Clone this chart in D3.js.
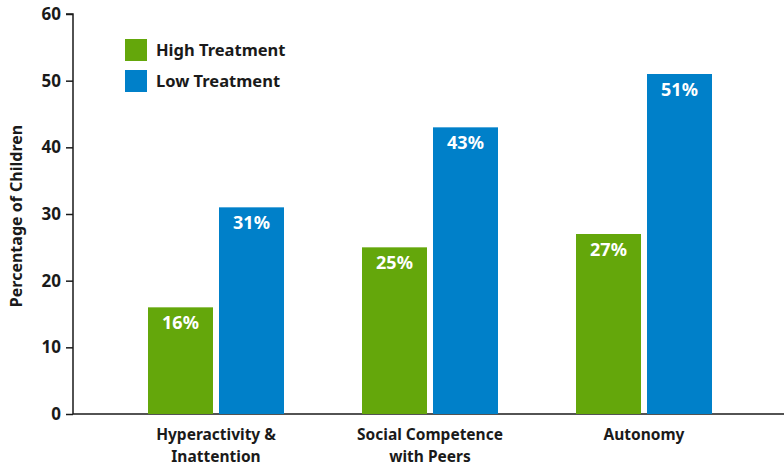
<!DOCTYPE html>
<html>
<head>
<meta charset="utf-8">
<script src="https://cdn.jsdelivr.net/npm/d3@7/dist/d3.min.js"></script>
<style>
  html, body { margin: 0; padding: 0; background: #fff; }
  svg { display: block; font-family: "Noto Sans", "Open Sans", sans-serif; }
</style>
</head>
<body>
<svg id="chart" width="784" height="466"></svg>
<script>
// Outcome categories (two-line labels) and treatment-group percentages
const categories = ["Hyperactivity &\nInattention", "Social Competence\nwith Peers", "Autonomy"];
const seriesNames = ["High Treatment", "Low Treatment"];
const highTreatment = [16, 25, 27];
const lowTreatment = [31, 43, 51];
const yTicks = [0, 10, 20, 30, 40, 50, 60];
const colors = ["#64a70b", "#0080c9"];

const svg = d3.select("#chart");
const ink = "#1a1a1a";

const y = d3.scaleLinear().domain([0, 60]).range([414, 14]);
const x = d3.scaleBand().domain(categories).range([109, 751]).padding(0);

// Y axis
const yAxis = svg.append("g")
  .attr("transform", "translate(73,0)")
  .call(d3.axisLeft(y).tickValues(yTicks).tickSize(7).tickPadding(5));
yAxis.select(".domain").attr("stroke", ink).attr("stroke-width", 1.5).attr("d", "M-7,14H0V414");
yAxis.selectAll(".tick line").attr("stroke", ink).attr("stroke-width", 1.5);
yAxis.selectAll(".tick text")
  .attr("fill", ink).attr("font-size", 17).attr("font-weight", 700)
  .attr("font-family", "'Noto Sans', sans-serif");

// X baseline
svg.append("line")
  .attr("x1", 73).attr("x2", 784).attr("y1", y(0)).attr("y2", y(0))
  .attr("stroke", ink).attr("stroke-width", 1.5);

// Bars
const rows = categories.map((c, i) => ({ cat: c, vals: [highTreatment[i], lowTreatment[i]] }));
const groups = svg.append("g").selectAll("g").data(rows).join("g")
  .attr("transform", d => `translate(${x(d.cat) + x.bandwidth() / 2 - 68},0)`);

const barW = 65;
groups.selectAll("rect")
  .data(d => d.vals.map((v, j) => ({ v, j })))
  .join("rect")
  .attr("x", d => d.j * (barW + 6))
  .attr("width", barW)
  .attr("y", d => y(d.v))
  .attr("height", d => y(0) - y(d.v))
  .attr("fill", d => colors[d.j]);

groups.selectAll("text.val")
  .data(d => d.vals.map((v, j) => ({ v, j })))
  .join("text")
  .attr("class", "val")
  .attr("x", d => d.j * (barW + 6) + barW / 2)
  .attr("y", d => y(d.v) + 22)
  .attr("text-anchor", "middle")
  .attr("fill", "#fff")
  .attr("font-size", 18)
  .attr("font-weight", 700)
  .text(d => d.v + "%");

// Category labels, one text element per line
const catLines = categories.flatMap(c => c.split("\n").map((t, i) => ({ c, t, i })));
svg.append("g").selectAll("text").data(catLines).join("text")
  .attr("x", d => x(d.c) + x.bandwidth() / 2)
  .attr("y", d => 440 + d.i * 21.5)
  .attr("text-anchor", "middle")
  .attr("fill", ink)
  .attr("font-size", 15.5)
  .attr("font-weight", 700)
  .text(d => d.t);

// Y axis title
svg.append("text")
  .attr("transform", "translate(22,216) rotate(-90)")
  .attr("text-anchor", "middle")
  .attr("fill", ink)
  .attr("font-size", 16)
  .attr("font-weight", 700)
  .text("Percentage of Children");

// Legend
const legend = svg.append("g").selectAll("g").data(seriesNames).join("g")
  .attr("transform", (d, i) => `translate(125,${39 + i * 31})`);
legend.append("rect").attr("width", 22).attr("height", 22).attr("fill", (d, i) => colors[i]);
legend.append("text")
  .attr("x", 31).attr("y", 17)
  .attr("fill", ink).attr("font-size", 16.5).attr("font-weight", 700)
  .text(d => d);
</script>
</body>
</html>
